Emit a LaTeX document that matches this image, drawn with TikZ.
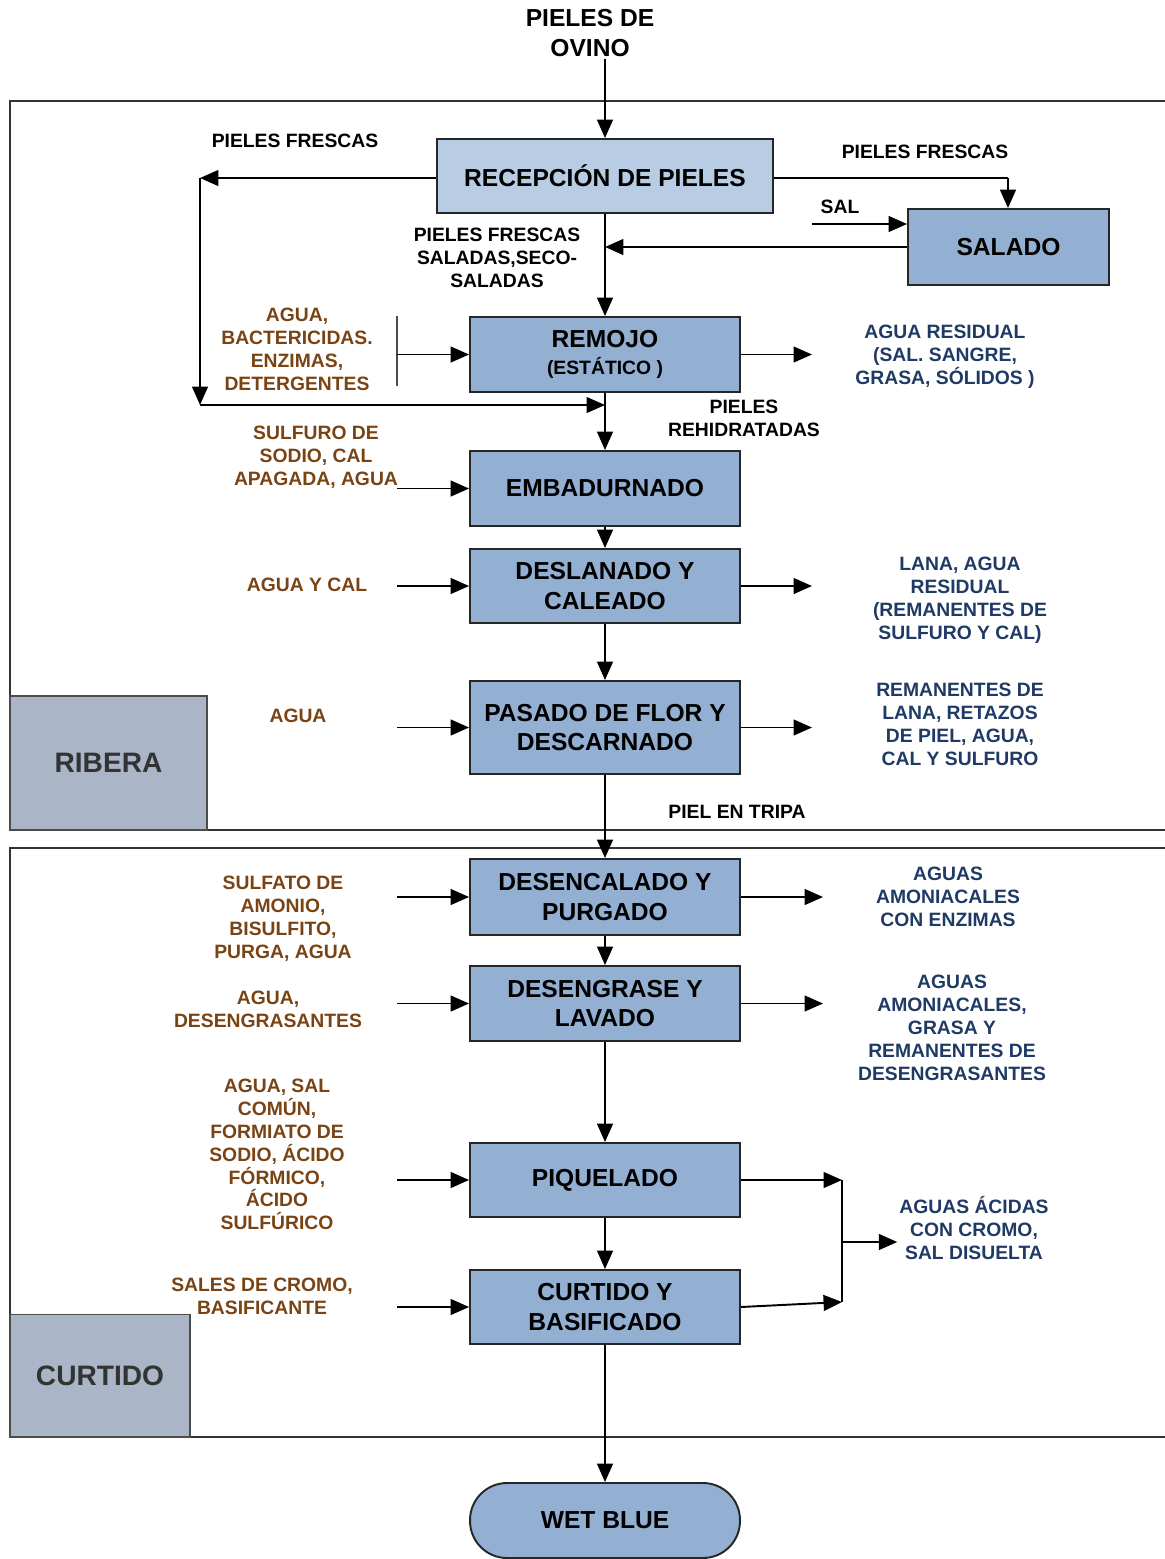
\documentclass[tikz,border=0pt]{standalone}
\usepackage{fontspec}
\setmainfont{Liberation Sans}
\usetikzlibrary{arrows.meta}
\definecolor{procfill}{HTML}{93AFD2}
\definecolor{recfill}{HTML}{B8CCE4}
\definecolor{secfill}{HTML}{AAB6C8}
\definecolor{inbrown}{HTML}{7A4314}
\definecolor{outblue}{HTML}{1F3A64}
\begin{document}
\begin{tikzpicture}[x=0.02cm,y=-0.02cm,
  every node/.style={align=center, inner sep=1pt},
  proc/.style={draw=black!85, line width=1.1pt, fill=procfill, minimum width=5.4cm, minimum height=1.5cm, font=\fontsize{14}{17}\selectfont\bfseries},
  lbl/.style={font=\fontsize{11}{13}\selectfont\bfseries},
  inlbl/.style={lbl, text=inbrown},
  outlbl/.style={lbl, text=outblue},
  secbox/.style={draw=black!70, line width=0.6pt, fill=secfill, font=\fontsize{16}{19}\selectfont\bfseries, text=black!80},
  frame/.style={draw=black!80, line width=0.9pt},
  arr/.style={line width=1.1pt, -{Triangle[length=10.5pt,width=9pt]}},
  plain/.style={line width=1.1pt}]
\useasboundingbox (0,0) rectangle (1165,1559);

% section frames
\draw[frame] (1180,101) -- (10,101) -- (10,830) -- (1180,830);
\draw[frame] (1180,848) -- (10,848) -- (10,1437) -- (1180,1437);
\node[secbox, minimum width=3.94cm, minimum height=2.68cm] (ribera) at (108.5,763) {RIBERA};
\node[secbox, minimum width=3.6cm, minimum height=2.46cm] (curtsec) at (100,1375.5) {CURTIDO};

% process boxes
\node[font=\fontsize{14}{17}\selectfont\bfseries] (ovino) at (590,33) {PIELES DE\\OVINO};
\node[proc, fill=recfill, minimum width=6.72cm, minimum height=1.48cm] (recep) at (605,176) {RECEPCI\'ON DE PIELES};
\node[proc, minimum width=4.02cm, minimum height=1.52cm] (salado) at (1008.5,247) {SALADO};
\node[proc] (remojo) at (605,354.5) {REMOJO\\[-2pt]{\fontsize{11}{13}\selectfont (EST\'ATICO )}};
\node[proc] (embad) at (605,488.5) {EMBADURNADO};
\node[proc, minimum height=1.48cm] (deslan) at (605,586) {DESLANADO Y\\CALEADO};
\node[proc, minimum height=1.86cm] (pasado) at (605,727.5) {PASADO DE FLOR Y\\DESCARNADO};
\node[proc, minimum height=1.52cm] (desenc) at (605,897) {DESENCALADO Y\\PURGADO};
\node[proc] (deseng) at (605,1003.5) {DESENGRASE Y\\LAVADO};
\node[proc, minimum height=1.48cm] (piquel) at (605,1180) {PIQUELADO};
\node[proc, minimum height=1.48cm] (curtbas) at (605,1307) {CURTIDO Y\\BASIFICADO};
\node[proc, rounded corners=0.74cm] (wet) at (605,1520.5) {WET BLUE};

% labels
\node[lbl] (frescaL) at (295,141) {PIELES FRESCAS};
\node[lbl] (frescaR) at (925,152) {PIELES FRESCAS};
\node[lbl] (sal) at (840,207) {SAL};
\node[lbl] (saladas) at (497,258) {PIELES FRESCAS\\SALADAS,SECO-\\SALADAS};
\node[lbl] (rehid) at (744,418.5) {PIELES\\REHIDRATADAS};
\node[lbl] (tripa) at (737,812) {PIEL EN TRIPA};

\node[inlbl] (inRem) at (297,349.5) {AGUA,\\BACTERICIDAS.\\ENZIMAS,\\DETERGENTES};
\node[inlbl] (inEmb) at (316,457) {SULFURO DE\\SODIO, CAL\\APAGADA, AGUA};
\node[inlbl] (inDes) at (307,585) {AGUA Y CAL};
\node[inlbl] (inPas) at (298,716) {AGUA};
\node[inlbl] (inDsc) at (283,918.5) {SULFATO DE\\AMONIO,\\BISULFITO,\\PURGA, AGUA};
\node[inlbl] (inDsg) at (268,1009.5) {AGUA,\\DESENGRASANTES};
\node[inlbl] (inPiq) at (277,1154.5) {AGUA, SAL\\COM\'UN,\\FORMIATO DE\\SODIO, \'ACIDO\\F\'ORMICO,\\\'ACIDO\\SULF\'URICO};
\node[inlbl] (inCur) at (262,1296.5) {SALES DE CROMO,\\BASIFICANTE};

\node[outlbl] (outRem) at (945,357) {AGUA RESIDUAL\\(SAL. SANGRE,\\GRASA, S\'OLIDOS )};
\node[outlbl] (outDes) at (960,600.5) {LANA, AGUA\\RESIDUAL\\(REMANENTES DE\\SULFURO Y CAL)};
\node[outlbl] (outPas) at (960,724.5) {REMANENTES DE\\LANA, RETAZOS\\DE PIEL, AGUA,\\CAL Y SULFURO};
\node[outlbl] (outDsc) at (948,897) {AGUAS\\AMONIACALES\\CON ENZIMAS};
\node[outlbl] (outDsg) at (952,1028) {AGUAS\\AMONIACALES,\\GRASA Y\\REMANENTES DE\\DESENGRASANTES};
\node[outlbl] (acidas) at (974,1228) {AGUAS \'ACIDAS\\CON CROMO,\\SAL DISUELTA};

% helper coordinates
\coordinate (inx) at (397,0);
\coordinate (outx) at (812,0);
\coordinate (outx2) at (823,0);
\coordinate (loopA) at (200,178);
\coordinate (loopB) at (200,405);
\coordinate (salR) at (1008,178);
\coordinate (salIn) at (812,224);
\coordinate (jtop) at (842,1180);
\coordinate (jbot) at (842,1302);
\coordinate (jmid) at (842,1242);

% main line
\draw[arr] (ovino.south -| recep.north) -- (recep.north);
\draw[arr] (recep) -- (remojo);
\draw[arr] (remojo) -- (embad);
\draw[arr] (embad) -- (deslan);
\draw[arr] (deslan) -- (pasado);
\draw[arr] (pasado) -- (desenc);
\draw[arr] (desenc) -- (deseng);
\draw[arr] (deseng) -- (piquel);
\draw[arr] (piquel) -- (curtbas);
\draw[arr] (curtbas) -- (wet);

% fresh and salted hides
\draw[arr] (recep.west |- loopA) -- (loopA);
\draw[arr] (loopA) -- (loopB);
\draw[arr] (loopB) -- (loopB -| remojo.north);
\draw[plain] (recep.east |- salR) -- (salR);
\draw[arr] (salR) -- (salR |- salado.north);
\draw[arr] (salIn) -- (salIn -| salado.west);
\draw[arr] (salado.west) -- (salado.west -| recep.south);

% inputs
\draw[line width=0.8pt, black!70] (397,316) -- (397,386);
\draw[arr] (inx |- remojo.west) -- (remojo.west);
\draw[arr] (inx |- embad.west) -- (embad.west);
\draw[arr] (inx |- deslan.west) -- (deslan.west);
\draw[arr] (inx |- pasado.west) -- (pasado.west);
\draw[arr] (inx |- desenc.west) -- (desenc.west);
\draw[arr] (inx |- deseng.west) -- (deseng.west);
\draw[arr] (inx |- piquel.west) -- (piquel.west);
\draw[arr] (inx |- curtbas.west) -- (curtbas.west);

% outputs
\draw[arr] (remojo.east) -- (outx |- remojo.east);
\draw[arr] (deslan.east) -- (outx |- deslan.east);
\draw[arr] (pasado.east) -- (outx |- pasado.east);
\draw[arr] (desenc.east) -- (outx2 |- desenc.east);
\draw[arr] (deseng.east) -- (outx2 |- deseng.east);
\draw[arr] (piquel.east) -- (jtop);
\draw[arr] (curtbas.east) -- (jbot);
\draw[plain] (jtop) -- (jbot);
\draw[arr] (jmid) -- (jmid -| acidas.west);
\end{tikzpicture}
\end{document}
